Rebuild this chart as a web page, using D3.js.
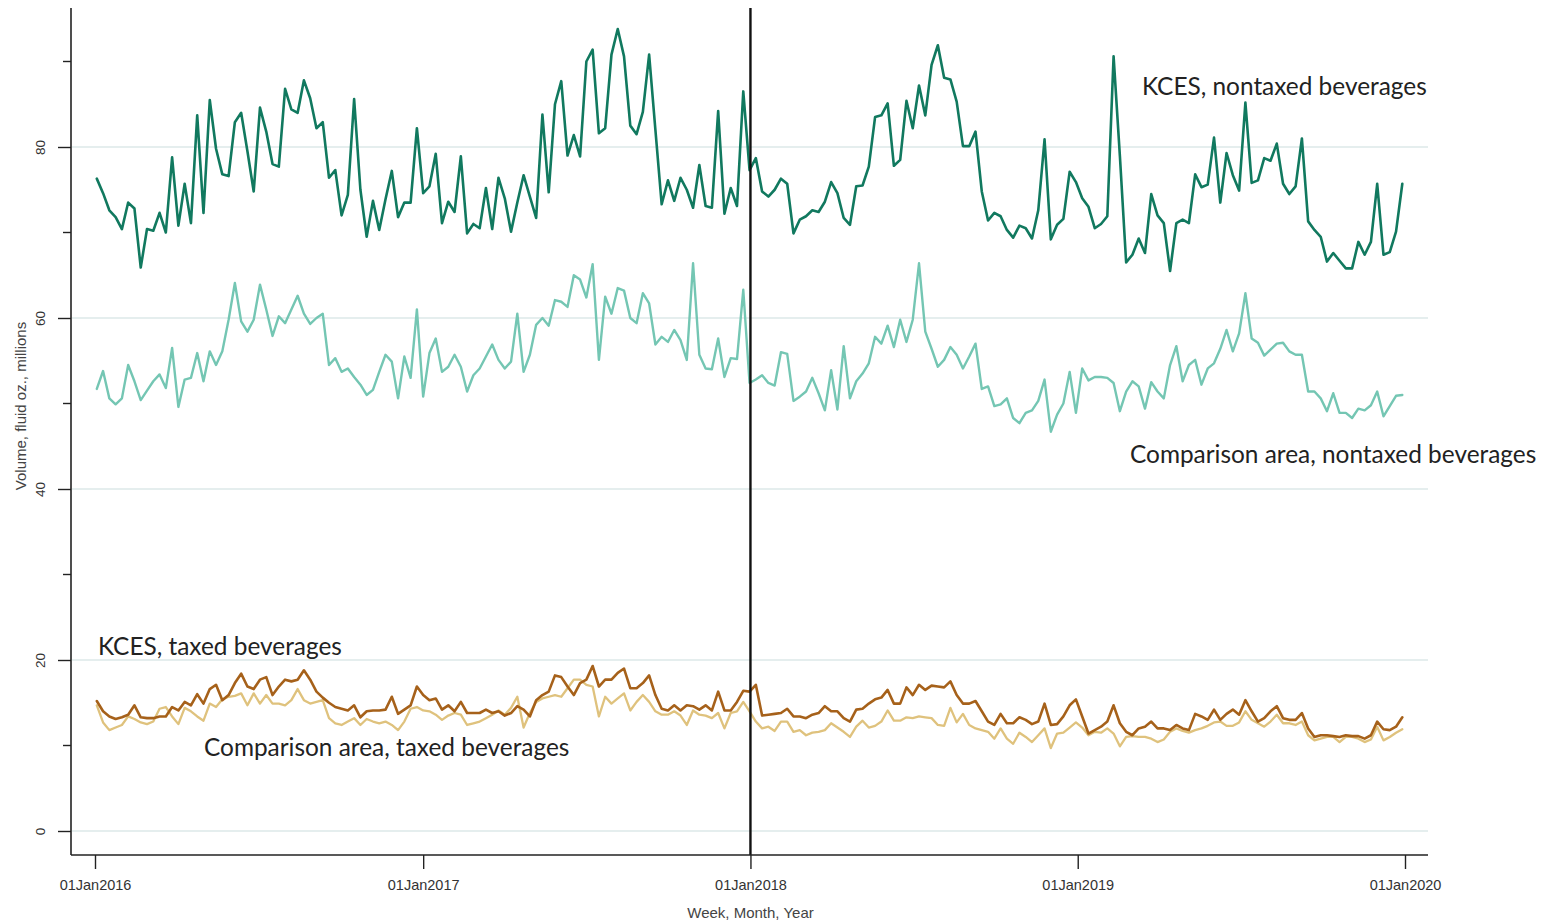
<!DOCTYPE html>
<html>
<head>
<meta charset="utf-8">
<script src="https://cdn.jsdelivr.net/npm/d3@7"></script>
<style>
  html, body { margin: 0; padding: 0; background: #ffffff; }
  svg { display: block; }
</style>
</head>
<body>
<svg id="chart" width="1560" height="923"></svg>
<script>
// Weekly beverage volumes (millions of fluid oz.), first week ending 03Jan2016
const firstWeek = "2016-01-03";

const kcesNontaxed = [
  76.3, 74.6, 72.6, 71.8, 70.4, 73.5, 72.8, 65.9, 70.4, 70.2, 72.3, 70.0, 78.8, 70.8, 75.7, 71.1, 83.7, 72.3, 85.5, 79.8,
  76.8, 76.6, 82.9, 84.0, 79.5, 74.8, 84.6, 81.8, 78.0, 77.7, 86.8, 84.4, 84.0, 87.8, 85.7, 82.2, 82.9, 76.4, 77.3, 72.0,
  74.4, 85.6, 75.0, 69.5, 73.7, 70.3, 73.9, 77.2, 71.8, 73.5, 73.5, 82.2, 74.6,
  75.4, 79.2, 71.1, 73.6, 72.4, 78.9, 69.9, 71.0, 70.5, 75.2, 70.4, 76.4, 74.0, 70.1, 73.5, 76.7, 74.2, 71.7, 83.8, 74.7,
  85.0, 87.7, 79.0, 81.4, 78.9, 90.0, 91.4, 81.6, 82.2, 90.8, 93.8, 90.6, 82.5, 81.5, 84.1, 90.8, 82.0, 73.3, 76.1, 73.7,
  76.4, 75.0, 72.9, 77.9, 73.1, 72.9, 84.2, 72.2, 75.2, 73.1, 86.5, 77.3,
  78.7, 74.8, 74.2, 75.0, 76.3, 75.7, 69.9, 71.5, 71.9, 72.6, 72.4, 73.6, 75.9, 74.6, 71.7, 70.9, 75.4, 75.5, 77.7, 83.5,
  83.7, 85.1, 77.8, 78.5, 85.4, 82.2, 87.2, 83.7, 89.6, 91.9, 88.1, 87.9, 85.3, 80.1, 80.1, 81.8, 74.8, 71.4, 72.3, 71.9,
  70.3, 69.4, 70.8, 70.5, 69.3, 72.6, 80.9, 69.2, 70.9, 71.6, 77.1, 75.9,
  74.0, 73.0, 70.5, 71.0, 71.9, 90.6, 79.0, 66.5, 67.4, 69.3, 67.6, 74.5, 72.0, 71.1, 65.5, 71.1, 71.5, 71.1, 76.8, 75.3,
  75.6, 81.1, 73.5, 79.3, 76.7, 74.9, 85.2, 75.8, 76.1, 78.7, 78.4, 80.4, 75.7, 74.5, 75.4, 81.0, 71.3, 70.3, 69.5, 66.6,
  67.6, 66.7, 65.8, 65.8, 68.9, 67.4, 68.9, 75.7, 67.4, 67.7, 70.1, 75.7
];

const comparisonNontaxed = [
  51.7, 53.8, 50.6, 49.9, 50.6, 54.5, 52.6, 50.4, 51.5, 52.6, 53.4, 51.8, 56.5, 49.6, 52.8, 53.0, 55.9, 52.6, 56.1, 54.5,
  56.1, 59.8, 64.1, 59.6, 58.4, 59.8, 63.9, 61.0, 57.9, 60.2, 59.4, 61.0, 62.6, 60.5, 59.3, 60.0, 60.5, 54.5, 55.3, 53.7,
  54.1, 53.1, 52.2, 51.0, 51.6, 53.7, 55.7, 54.9, 50.6, 55.5, 53.0, 61.0, 50.8,
  55.9, 57.6, 53.7, 54.3, 55.7, 54.3, 51.4, 53.3, 54.1, 55.5, 56.9, 55.1, 54.1, 54.9, 60.5, 53.7, 55.7, 59.2, 60.0, 59.1,
  62.1, 61.9, 61.3, 65.0, 64.5, 62.4, 66.3, 55.1, 62.5, 60.5, 63.5, 63.2, 60.0, 59.4, 62.9, 61.7, 56.9, 57.8, 57.2, 58.6,
  57.4, 55.1, 66.4, 55.7, 54.1, 54.0, 57.6, 53.1, 55.3, 55.2, 63.3, 52.4,
  52.8, 53.3, 52.4, 52.1, 56.0, 55.8, 50.3, 50.8, 51.4, 53.0, 51.2, 49.2, 53.9, 49.3, 56.7, 50.6, 52.6, 53.5, 54.7, 57.8,
  57.0, 59.1, 56.6, 59.8, 57.2, 59.8, 66.4, 58.4, 56.4, 54.3, 55.1, 56.6, 55.7, 54.1, 55.5, 57.0, 51.7, 52.0, 49.7, 49.9,
  50.6, 48.3, 47.7, 48.9, 49.2, 50.3, 52.8, 46.7, 48.7, 50.0, 53.7, 48.9,
  54.1, 52.7, 53.1, 53.1, 53.0, 52.4, 49.1, 51.4, 52.6, 52.0, 49.4, 52.5, 51.4, 50.6, 54.5, 56.7, 52.6, 54.5, 55.1, 52.2,
  54.1, 54.7, 56.4, 58.6, 56.1, 58.2, 62.9, 57.6, 57.1, 55.6, 56.3, 57.0, 57.1, 56.1, 55.7, 55.7, 51.4, 51.4, 50.6, 49.1,
  51.2, 48.9, 48.9, 48.3, 49.4, 49.2, 49.8, 51.4, 48.5, 49.7, 50.9, 51.0
];

const kcesTaxed = [
  15.2, 14.0, 13.4, 13.1, 13.3, 13.6, 14.7, 13.3, 13.2, 13.2, 13.4, 13.4, 14.5, 14.1, 15.1, 14.7, 16.0, 14.9, 16.6, 17.1,
  15.3, 15.9, 17.3, 18.4, 16.9, 16.6, 17.7, 18.0, 15.9, 16.9, 17.7, 17.5, 17.7, 18.8, 17.7, 16.3, 15.6, 15.0, 14.5, 14.3,
  14.1, 14.7, 13.3, 14.0, 14.1, 14.1, 14.2, 15.7, 13.7, 14.2, 14.7, 16.9, 15.9,
  15.3, 15.5, 14.2, 14.7, 14.0, 15.1, 13.8, 13.8, 13.8, 14.2, 13.8, 14.0, 13.5, 13.8, 14.6, 14.2, 13.4, 15.3, 15.9, 16.3,
  18.2, 18.0, 16.9, 15.9, 17.3, 17.7, 19.3, 16.9, 17.7, 17.7, 18.5, 19.0, 16.7, 16.7, 17.3, 18.2, 15.9, 14.3, 14.1, 14.7,
  14.1, 14.7, 14.6, 14.2, 14.7, 14.1, 16.3, 14.1, 14.1, 15.1, 16.4, 16.3,
  17.1, 13.5, 13.6, 13.7, 13.8, 14.3, 13.4, 13.4, 13.2, 13.6, 13.8, 14.6, 14.0, 14.0, 13.2, 12.8, 14.2, 14.3, 14.9, 15.4,
  15.6, 16.5, 14.9, 14.9, 16.8, 15.9, 17.1, 16.5, 17.0, 16.9, 16.8, 17.5, 15.9, 14.9, 14.9, 15.2, 14.0, 12.8, 12.4, 13.7,
  12.6, 12.6, 13.3, 13.0, 12.5, 12.8, 14.9, 12.4, 12.5, 13.4, 14.7, 15.4,
  13.4, 11.4, 11.8, 12.2, 12.8, 14.7, 12.6, 11.6, 11.2, 12.0, 12.2, 12.8, 12.0, 12.0, 11.8, 12.4, 12.0, 11.8, 13.7, 13.4,
  13.0, 14.2, 13.0, 13.7, 14.2, 13.6, 15.3, 14.0, 12.8, 13.2, 14.0, 14.6, 13.2, 13.0, 13.0, 13.8, 12.0, 11.0, 11.2, 11.2,
  11.1, 11.0, 11.2, 11.1, 11.1, 10.8, 11.2, 12.8, 11.9, 11.8, 12.2, 13.3
];

const comparisonTaxed = [
  14.7, 12.7, 11.8, 12.1, 12.4, 13.4, 13.1, 12.7, 12.5, 12.8, 14.3, 14.5, 13.4, 12.5, 14.4, 14.0, 13.4, 12.9, 14.9, 14.5,
  15.4, 15.7, 15.8, 16.1, 14.7, 16.1, 14.9, 15.9, 14.9, 14.9, 14.7, 15.3, 16.6, 15.3, 14.9, 15.1, 15.3, 13.2, 12.6, 12.4,
  12.8, 13.2, 12.4, 13.1, 12.8, 12.6, 12.8, 12.4, 11.8, 12.8, 14.3, 14.5, 14.1,
  14.0, 13.6, 13.0, 13.5, 13.8, 13.6, 12.4, 12.6, 12.8, 13.2, 13.6, 14.1, 13.6, 14.4, 15.7, 12.1, 13.8, 15.1, 15.5, 15.7,
  15.9, 15.7, 16.7, 17.7, 17.7, 17.1, 16.9, 13.4, 15.7, 14.9, 15.5, 16.1, 14.1, 15.1, 15.9, 15.1, 14.0, 13.6, 13.6, 14.0,
  13.5, 12.4, 14.1, 13.6, 13.5, 13.2, 13.8, 12.0, 13.8, 14.0, 15.1, 14.0,
  12.8, 12.0, 12.2, 11.7, 12.8, 12.8, 11.6, 11.8, 11.2, 11.5, 11.6, 11.8, 12.6, 12.1, 11.6, 11.0, 12.2, 12.9, 12.1, 12.3,
  12.8, 14.1, 12.9, 12.9, 13.3, 13.2, 13.4, 13.3, 13.2, 12.4, 12.3, 14.4, 12.7, 13.7, 12.4, 12.0, 11.8, 11.6, 10.8, 12.0,
  10.8, 10.2, 11.5, 11.0, 10.4, 11.2, 12.0, 9.7, 11.4, 11.5, 12.1, 12.7,
  12.1, 11.2, 11.6, 11.5, 12.0, 11.4, 9.9, 11.0, 11.1, 11.0, 11.0, 10.8, 10.4, 10.7, 11.6, 12.0, 11.7, 11.5, 11.8, 12.0,
  12.3, 12.7, 12.8, 12.3, 12.3, 12.7, 14.0, 13.0, 12.6, 12.2, 12.8, 13.6, 12.6, 12.6, 12.4, 12.8, 11.2, 10.6, 10.8, 11.0,
  11.0, 10.4, 11.0, 11.0, 10.8, 10.4, 10.7, 12.2, 10.6, 11.0, 11.5, 11.9
];

// Axis ticks and labels
const xTickDates = ["2016-01-01", "2017-01-01", "2018-01-01", "2019-01-01", "2020-01-01"];
const xTickLabels = ["01Jan2016", "01Jan2017", "01Jan2018", "01Jan2019", "01Jan2020"];
const yMajorTicks = [0, 20, 40, 60, 80];
const yMinorTicks = [10, 30, 50, 70, 90];
const interventionDate = "2018-01-01";

// Series labels drawn next to their lines
const seriesNames = [
  "Comparison area, taxed beverages",
  "KCES, taxed beverages",
  "Comparison area, nontaxed beverages",
  "KCES, nontaxed beverages"
];
const seriesValues = [comparisonTaxed, kcesTaxed, comparisonNontaxed, kcesNontaxed];

// ---------------------------------------------------------------------------
const parse = d3.utcParse("%Y-%m-%d");
const colors = ["#dfc27d", "#a6611a", "#74c6b3", "#11795f"];
const widths = [2.3, 2.6, 2.4, 2.6];
const labelPos = [[204, 756], [98, 655], [1130, 463], [1142, 95]];

const plot = { left: 71, right: 1428, top: 8, bottom: 855 };
const axisFont = "Liberation Sans, Arial, sans-serif";

const svg = d3.select("#chart");

const x = d3.scaleUtc()
  .domain([parse(xTickDates[0]), parse(xTickDates[xTickDates.length - 1])])
  .range([95, 1405]);

const y = d3.scaleLinear()
  .domain([0, 80])
  .range([831, 147]);

const start = parse(firstWeek);
const weekDate = i => d3.utcDay.offset(start, 7 * i);

// horizontal grid at labelled ticks
svg.append("g")
  .selectAll("line")
  .data(yMajorTicks)
  .join("line")
  .attr("x1", plot.left + 1)
  .attr("x2", plot.right)
  .attr("y1", d => y(d))
  .attr("y2", d => y(d))
  .attr("stroke", "#e5eeee")
  .attr("stroke-width", 2);

// series lines
const line = d3.line()
  .x((d, i) => x(weekDate(i)))
  .y(d => y(d));

svg.append("g")
  .selectAll("path")
  .data(seriesValues)
  .join("path")
  .attr("d", d => line(d))
  .attr("fill", "none")
  .attr("stroke", (d, i) => colors[i])
  .attr("stroke-width", (d, i) => widths[i])
  .attr("stroke-linejoin", "round")
  .attr("stroke-linecap", "round");

// tax start marker
svg.append("line")
  .attr("x1", x(parse(interventionDate)))
  .attr("x2", x(parse(interventionDate)))
  .attr("y1", plot.top)
  .attr("y2", plot.bottom)
  .attr("stroke", "#111")
  .attr("stroke-width", 2.4);

// y axis
const yAxis = svg.append("g").attr("transform", `translate(${plot.left},0)`);
yAxis.call(d3.axisLeft(y).tickValues(yMajorTicks).tickSize(13).tickPadding(0).tickFormat(d3.format("d")))
  .call(g => g.select(".domain").remove());
yAxis.selectAll(".tick line").attr("stroke", "#222").attr("stroke-width", 1.4);
yAxis.selectAll(".tick text")
  .attr("transform", "rotate(-90)")
  .attr("x", 0)
  .attr("y", -31)
  .attr("dy", "0.35em")
  .attr("text-anchor", "middle")
  .attr("font-family", axisFont)
  .attr("font-size", 13.5)
  .attr("fill", "#333");
yAxis.selectAll(".minor")
  .data(yMinorTicks)
  .join("line")
  .attr("class", "minor")
  .attr("x1", -8).attr("x2", 0)
  .attr("y1", d => y(d)).attr("y2", d => y(d))
  .attr("stroke", "#222").attr("stroke-width", 1.4);
yAxis.append("line")
  .attr("x1", 0).attr("x2", 0)
  .attr("y1", plot.top).attr("y2", plot.bottom)
  .attr("stroke", "#222").attr("stroke-width", 1.6);

// x axis
const xAxis = svg.append("g").attr("transform", `translate(0,${plot.bottom})`);
xAxis.call(d3.axisBottom(x)
    .tickValues(xTickDates.map(parse))
    .tickSize(14)
    .tickPadding(11)
    .tickFormat((d, i) => xTickLabels[i]))
  .call(g => g.select(".domain").remove());
xAxis.selectAll(".tick line").attr("stroke", "#222").attr("stroke-width", 1.4);
xAxis.selectAll(".tick text")
  .attr("font-family", axisFont)
  .attr("font-size", 14.5)
  .attr("fill", "#333");
xAxis.append("line")
  .attr("x1", plot.left).attr("x2", plot.right)
  .attr("y1", 0).attr("y2", 0)
  .attr("stroke", "#222").attr("stroke-width", 1.6);

// axis titles
svg.append("text")
  .attr("transform", "translate(26,406) rotate(-90)")
  .attr("text-anchor", "middle")
  .attr("font-family", axisFont)
  .attr("font-size", 15)
  .attr("fill", "#444")
  .text("Volume, fluid oz., millions");

svg.append("text")
  .attr("x", (plot.left + plot.right) / 2 + 1)
  .attr("y", 918)
  .attr("text-anchor", "middle")
  .attr("font-family", axisFont)
  .attr("font-size", 15)
  .attr("fill", "#444")
  .text("Week, Month, Year");

// series annotations
svg.append("g")
  .selectAll("text")
  .data(seriesNames)
  .join("text")
  .attr("x", (d, i) => labelPos[i][0])
  .attr("y", (d, i) => labelPos[i][1])
  .attr("font-family", "Lato, 'Open Sans', sans-serif")
  .attr("font-size", 24.4)
  .attr("fill", "#222")
  .text(d => d);
</script>
</body>
</html>
